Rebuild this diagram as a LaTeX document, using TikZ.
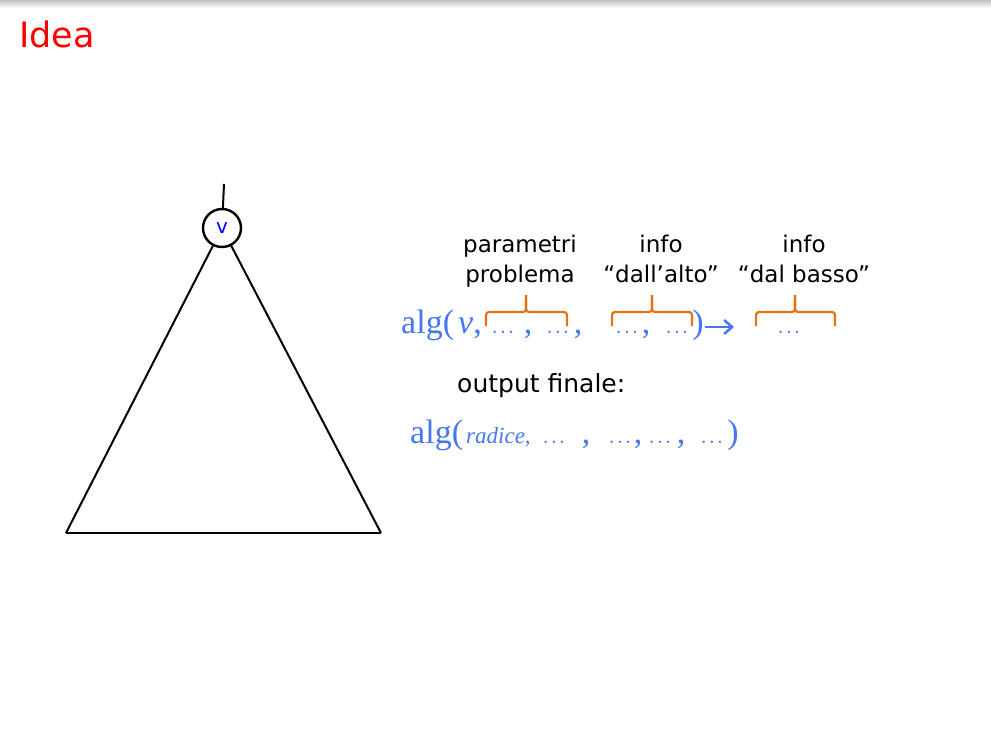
\documentclass[tikz,border=0pt]{standalone}
\usepackage{fontspec}
\newfontfamily\labfont{DejaVu Sans}
\newfontfamily\formfont{Liberation Serif}
\usetikzlibrary{arrows.meta}
\definecolor{algblue}{RGB}{70,118,240}
\definecolor{braceorange}{RGB}{232,112,18}
\definecolor{ideared}{RGB}{255,0,0}
\newcommand{\dd}{$.\mkern1mu.\mkern1mu.$}
\begin{document}
\begin{tikzpicture}[x=1pt,y=-1pt,
  lab/.style={font=\labfont\fontsize{23}{27}\selectfont, inner sep=0pt, anchor=base},
  formula/.style={font=\formfont\fontsize{34}{38}\selectfont, text=algblue, inner sep=0pt, anchor=base west},
  fdots/.style={formula, anchor=base},
  bracestyle/.style={draw=braceorange, line width=2.2pt, rounded corners=3pt},
  treeline/.style={line width=2pt, black}]
\useasboundingbox (0,0) rectangle (991,742);
\shade[top color=black!25, bottom color=white] (0,0) rectangle (991,8);

\node[font=\labfont\fontsize{35}{40}\selectfont, text=ideared, anchor=base west, inner sep=0pt] (title) at (19,47) {Idea};

% tree
\node[circle, draw, line width=2.4pt, minimum size=38pt, inner sep=0pt, text=blue, font=\labfont\fontsize{20}{24}\selectfont] (v) at (222,228) {v};
\coordinate (top) at (224,184);
\coordinate (bl) at (66,533);
\coordinate (br) at (381,533);
\draw[treeline] (top) -- (v);
\draw[treeline] (v) -- (bl);
\draw[treeline] (v) -- (br);
\draw[treeline] (bl) -- (br);

% labels
\node[lab] (l1a) at (520,252) {parametri};
\node[lab] (l1b) at (520,282) {problema};
\node[lab] (l2a) at (661,252) {info};
\node[lab] (l2b) at (661,282) {“dall’alto”};
\node[lab] (l3a) at (804,252) {info};
\node[lab] (l3b) at (804,282) {“dal basso”};

% braces
\draw[bracestyle] (486,326) |- (526,312) -- (526,295);
\draw[bracestyle] (526,295) -- (526,312) -| (567,326);
\draw[bracestyle] (612,326) |- (652,312) -- (652,295);
\draw[bracestyle] (652,295) -- (652,312) -| (692,326);
\draw[bracestyle] (756,326) |- (795,312) -- (795,295);
\draw[bracestyle] (795,295) -- (795,312) -| (835,326);

% formula line 1
\node[formula] (f1) at (401,333) {alg(};
\node[formula] (fv) at (458,333) {\textit{v},};
\node[fdots] (fd1) at (503,333) {\dd};
\node[fdots] (fc1) at (528,333) {,};
\node[fdots] (fd2) at (558,333) {\dd};
\node[fdots] (fc2) at (578,333) {,};
\node[fdots] (fd3) at (627,333) {\dd};
\node[fdots] (fc3) at (646,333) {,};
\node[fdots] (fd4) at (677,333) {\dd};
\node[fdots] (fp) at (698,333) {)};
\coordinate (arrend) at (734,327);
\draw[-{Straight Barb[length=8pt,width=14pt]}, draw=algblue, line width=2.5pt] ([xshift=1pt]fp.east |- arrend) -- (arrend);
\node[fdots] (fd5) at (789,333) {\dd};

% output
\node[font=\labfont\fontsize{25}{29}\selectfont, anchor=base west, inner sep=0pt] (out) at (457,392) {output finale:};
\node[formula] (g1) at (410,443) {alg(};
\node[formula, font=\formfont\itshape\fontsize{23}{26}\selectfont] (g2) at (466,443) {radice,};
\node[fdots] (gd1) at (554,443) {\dd};
\node[fdots] (gc1) at (586,443) {,};
\node[fdots] (gd2) at (620,443) {\dd};
\node[fdots] (gc2) at (638,443) {,};
\node[fdots] (gd3) at (660,443) {\dd};
\node[fdots] (gc3) at (681,443) {,};
\node[fdots] (gd4) at (712,443) {\dd};
\node[fdots] (gp) at (733,443) {)};
\end{tikzpicture}
\end{document}
